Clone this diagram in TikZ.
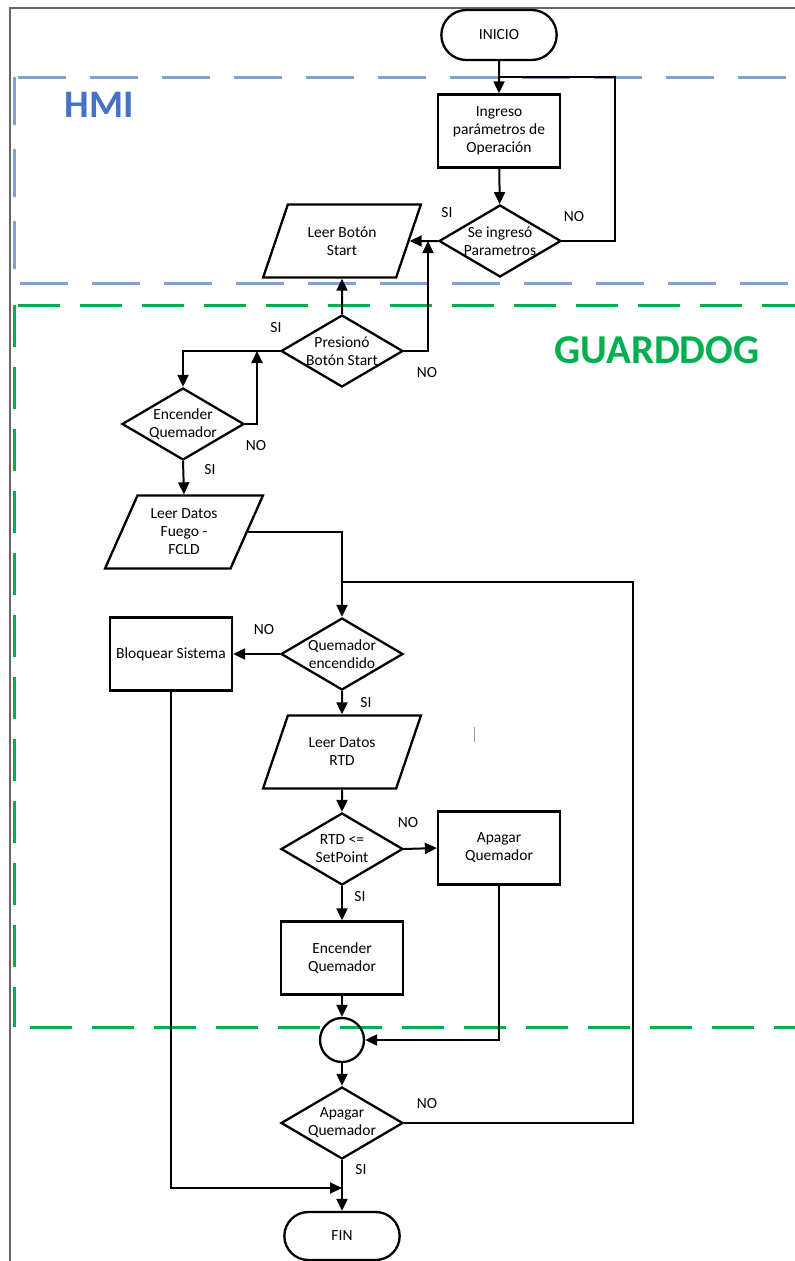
\documentclass[tikz,border=0pt]{standalone}
\usepackage{fontspec}
\setmainfont{Carlito}
\usetikzlibrary{shapes.geometric,shapes.misc,arrows.meta}
\definecolor{hmiblue}{RGB}{68,114,196}
\definecolor{hmidash}{RGB}{126,160,210}
\definecolor{gdgreen}{RGB}{0,176,80}
\begin{document}
\begin{tikzpicture}[x=1pt,y=-1pt,
  every node/.style={font=\fontsize{15.5}{18}\selectfont},
  term/.style={rounded rectangle,draw,line width=2.3pt,minimum width=122pt,minimum height=50pt},
  proc/.style={rectangle,draw,line width=2.3pt,minimum width=122pt,minimum height=73pt,align=center},
  dec/.style={diamond,draw,line width=2.3pt,minimum width=122pt,minimum height=72pt,inner sep=0pt},
  io/.style={trapezium,trapezium stretches=true,trapezium left angle=64,trapezium right angle=116,
    draw,line width=2.3pt,minimum width=158pt,minimum height=73pt,align=center},
  link/.style={line width=2pt},
  arr/.style={link,-{Triangle[length=12pt,width=11pt]}},
  lbl/.style={inner sep=0pt}]
\useasboundingbox (0,0) rectangle (795,1261);

% frame and lanes
\draw[black!60,line width=1.2pt] (10,1261) -- (10,8) -- (795,8);
\draw[hmidash,line width=3pt,dash pattern=on 48pt off 24pt] (18,77) -- (795,77);
\draw[hmidash,line width=3pt,dash pattern=on 48pt off 24pt] (14,77) -- (14,283);
\draw[hmidash,line width=3pt,dash pattern=on 48pt off 24pt] (20,283) -- (795,283);
\draw[gdgreen,line width=3pt,dash pattern=on 42pt off 20pt] (18,305) -- (795,305);
\draw[gdgreen,line width=3pt,dash pattern=on 42pt off 20pt] (14,305) -- (14,1027);
\draw[gdgreen,line width=3pt,dash pattern=on 42pt off 20pt] (30,1027) -- (795,1027);
\node[hmiblue,font=\fontsize{39}{40}\selectfont\bfseries] (hmi) at (99,105) {HMI};
\node[gdgreen,font=\fontsize{41}{42}\selectfont\bfseries] (gd) at (657,350) {GUARDDOG};

% blocks
\node[term] (inicio) at (499,35) {INICIO};
\node[proc] (ingreso) at (499,131) {Ingreso\\parámetros de\\Operación};
\node[dec,label={[align=center]center:{Se ingresó\\Parametros}}] (se) at (500,241) {};
\node[io] (btn) at (342,241) {Leer Botón\\Start};
\node[dec,label={[align=center]center:{Presionó\\Botón Start}}] (pres) at (342,351) {};
\node[dec,label={[align=center]center:{Encender\\Quemador}}] (enc) at (183,424) {};
\node[io] (fuego) at (184,532) {Leer Datos\\Fuego -\\FCLD};
\node[dec,label={[align=center]center:{Quemador\\encendido}}] (qe) at (342,654) {};
\node[proc] (bloq) at (171,654) {Bloquear Sistema};
\node[io] (rtd) at (342,752) {Leer Datos\\RTD};
\node[dec,label={[align=center]center:{RTD <=\\SetPoint}}] (sp) at (342,849) {};
\node[proc] (apR) at (499,848) {Apagar\\Quemador};
\node[proc] (encR) at (342,958) {Encender\\Quemador};
\node[circle,draw,line width=2.3pt,minimum size=44pt] (conn) at (342,1040) {};
\node[dec,label={[align=center]center:{Apagar\\Quemador}}] (apD) at (342,1123) {};
\node[term,minimum height=48pt] (fin) at (342,1236) {FIN};

% junctions
\coordinate (j1) at (499,77);
\coordinate (c1) at (615,77);
\coordinate (j2) at (428,241);
\coordinate (j3) at (257,351);
\coordinate (j4) at (342,582);
\coordinate (c2) at (633,582);
\coordinate (j5) at (342,1188);

% connectors
\draw[arr] (inicio) -- (ingreso);
\draw[arr] (ingreso) -- (se);
\draw[link] (se.east) -| (c1) -- (j1);
\draw[arr] (se.west) -- (btn.east);
\draw[arr] (pres.north) -- (btn.south);
\draw[arr] (pres.east) -| (j2);
\draw[arr] (pres.west) -| (enc.north);
\draw[arr] (enc.east) -| (j3);
\draw[arr] (enc.south) -- (fuego.north);
\draw[link] (fuego.east) -| (j4);
\draw[arr] (j4) -- (qe.north);
\draw[arr] (qe.west) -- (bloq.east);
\draw[arr] (qe.south) -- (rtd.north);
\draw[arr] (rtd.south) -- (sp.north);
\draw[arr] (sp.east) -- (apR.west);
\draw[arr] (sp.south) -- (encR.north);
\draw[arr] (encR.south) -- (conn.north);
\draw[arr] (apR.south) |- (conn.east);
\draw[arr] (conn.south) -- (apD.north);
\draw[link] (apD.east) -| (c2) -- (j4);
\draw[arr] (apD.south) -- (fin.north);
\draw[arr] (bloq.south) |- (j5);

% branch labels
\node[lbl] (l1) at (447,213) {SI};
\node[lbl] (l2) at (574,217) {NO};
\node[lbl] (l3) at (276,328) {SI};
\node[lbl] (l4) at (427,373) {NO};
\node[lbl] (l5) at (256,446) {NO};
\node[lbl] (l6) at (210,470) {SI};
\node[lbl] (l7) at (264,630) {NO};
\node[lbl] (l8) at (366,703) {SI};
\node[lbl] (l9) at (408,823) {NO};
\node[lbl] (l10) at (360,897) {SI};
\node[lbl] (l11) at (427,1104) {NO};
\node[lbl] (l12) at (361,1170) {SI};

\draw[black!40,line width=1pt] (474,727) -- (474,742);
\end{tikzpicture}
\end{document}
